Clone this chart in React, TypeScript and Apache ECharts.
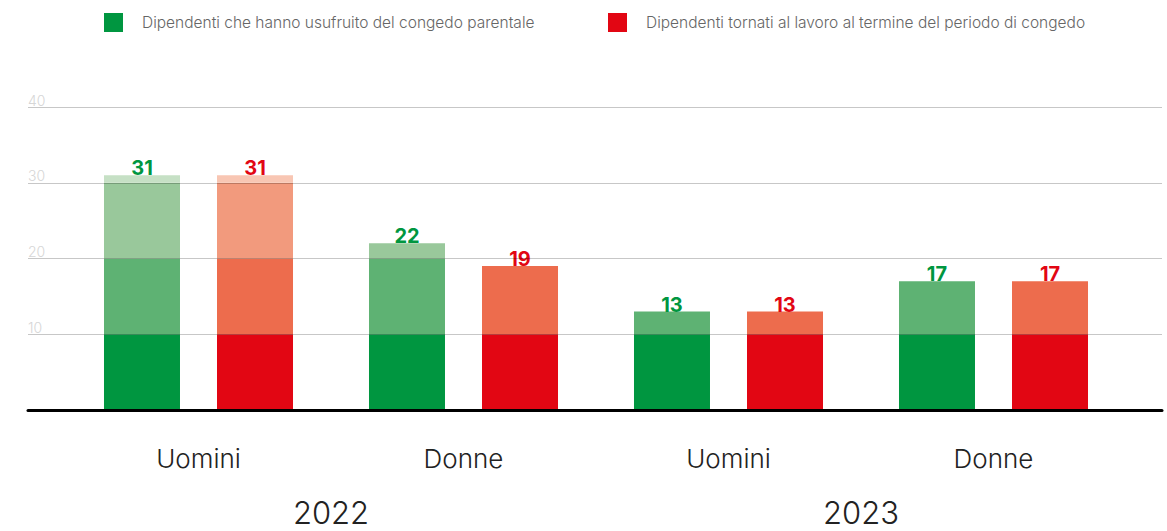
import React, { useEffect, useRef } from "react";
import * as echarts from "echarts";

const categories = ["Uomini", "Donne", "Uomini", "Donne"];
const years = ["2022", "2023"];
const usufruito = [31, 22, 13, 17];
const tornati = [31, 19, 13, 17];
const yTicks = [0, 10, 20, 30, 40];

const NAME_G = "Dipendenti che hanno usufruito del congedo parentale";
const NAME_R = "Dipendenti tornati al lavoro al termine del periodo di congedo";
const greenShades = ["#009640", "#5eb273", "#99c89b", "#c6e0c5"];
const redShades = ["#e20613", "#ed6c4d", "#f29a7d", "#f8c6b3"];

function segmentSeries(values: number[], name: string, stack: string, shades: string[], labelColor: string) {
  const step = yTicks[1] - yTicks[0];
  return shades.map((color, k) => {
    const lo = yTicks[k];
    return {
      type: "bar",
      name,
      stack,
      xAxisIndex: 1,
      yAxisIndex: 1,
      barWidth: 76,
      barGap: "48.7%",
      itemStyle: { color },
      label: {
        show: false,
        position: "top",
        distance: -3,
        color: labelColor,
        fontFamily: "Inter",
        fontWeight: 700,
        fontSize: 20,
      },
      data: values.map((v, i) => {
        const seg = Math.max(0, Math.min(step, v - lo));
        const isTop = v > lo && v <= lo + step;
        return {
          value: seg,
          label: isTop ? { show: true, formatter: String(values[i]) } : { show: false },
        };
      }),
    };
  });
}

export default function App() {
  const ref = useRef<HTMLDivElement>(null);
  useEffect(() => {
    if (!ref.current) return;
    const chart = echarts.init(ref.current, undefined, { renderer: "svg" });
    const legendCommon = {
      top: 13,
      padding: 0,
      icon: "rect",
      itemWidth: 19,
      itemHeight: 19,
      selectedMode: false,
      textStyle: {
        fontFamily: "Inter",
        fontWeight: 300,
        fontSize: 15.5,
        color: "#666",
        padding: [0, 0, 0, 14],
      },
    };
    chart.setOption({
      animation: false,
      backgroundColor: "#fff",
      legend: [
        { ...legendCommon, left: 104, data: [NAME_G] },
        { ...legendCommon, left: 608, data: [NAME_R] },
      ],
      grid: [
        { left: 28, right: 5, top: 107, bottom: 121 },
        { left: 66, right: 41, top: 107, bottom: 121 },
      ],
      xAxis: [
        {
          gridIndex: 0,
          type: "category",
          data: [""],
          z: 5,
          axisLine: { show: true, lineStyle: { color: "#000", width: 3 } },
          axisTick: { show: false },
          axisLabel: { show: false },
        },
        {
          gridIndex: 1,
          type: "category",
          data: categories,
          axisLine: { show: false },
          axisTick: { show: false },
          axisLabel: {
            margin: 35,
            fontFamily: "Inter",
            fontWeight: 300,
            fontSize: 26,
            color: "#222",
          },
        },
        {
          gridIndex: 1,
          type: "category",
          data: years,
          position: "bottom",
          offset: 60,
          axisLine: { show: false },
          axisTick: { show: false },
          axisLabel: {
            margin: 27,
            fontFamily: "Inter",
            fontWeight: 300,
            fontSize: 31,
            color: "#222",
          },
        },
      ],
      yAxis: [
        {
          gridIndex: 0,
          type: "value",
          min: yTicks[0],
          max: yTicks[yTicks.length - 1],
          interval: yTicks[1] - yTicks[0],
          z: 5,
          axisLine: { show: false },
          axisTick: { show: false },
          splitLine: { show: true, lineStyle: { color: "rgba(0,0,0,0.22)", width: 1 } },
          axisLabel: {
            inside: true,
            margin: 0,
            verticalAlign: "bottom",
            fontFamily: "Inter",
            fontWeight: 300,
            fontSize: 14,
            color: "#d6d6d6",
            formatter: (v: number) => (v === 0 ? "" : String(v)),
          },
        },
        {
          gridIndex: 1,
          type: "value",
          min: yTicks[0],
          max: yTicks[yTicks.length - 1],
          interval: yTicks[1] - yTicks[0],
          show: false,
        },
      ],
      series: [
        ...segmentSeries(usufruito, NAME_G, "g", greenShades, "#009640"),
        ...segmentSeries(tornati, NAME_R, "r", redShades, "#e20613"),
      ],
    });
    return () => chart.dispose();
  }, []);
  return (
    <div
      ref={ref}
      style={{ position: "fixed", left: 0, top: 0, width: 1167, height: 531 }}
    />
  );
}
